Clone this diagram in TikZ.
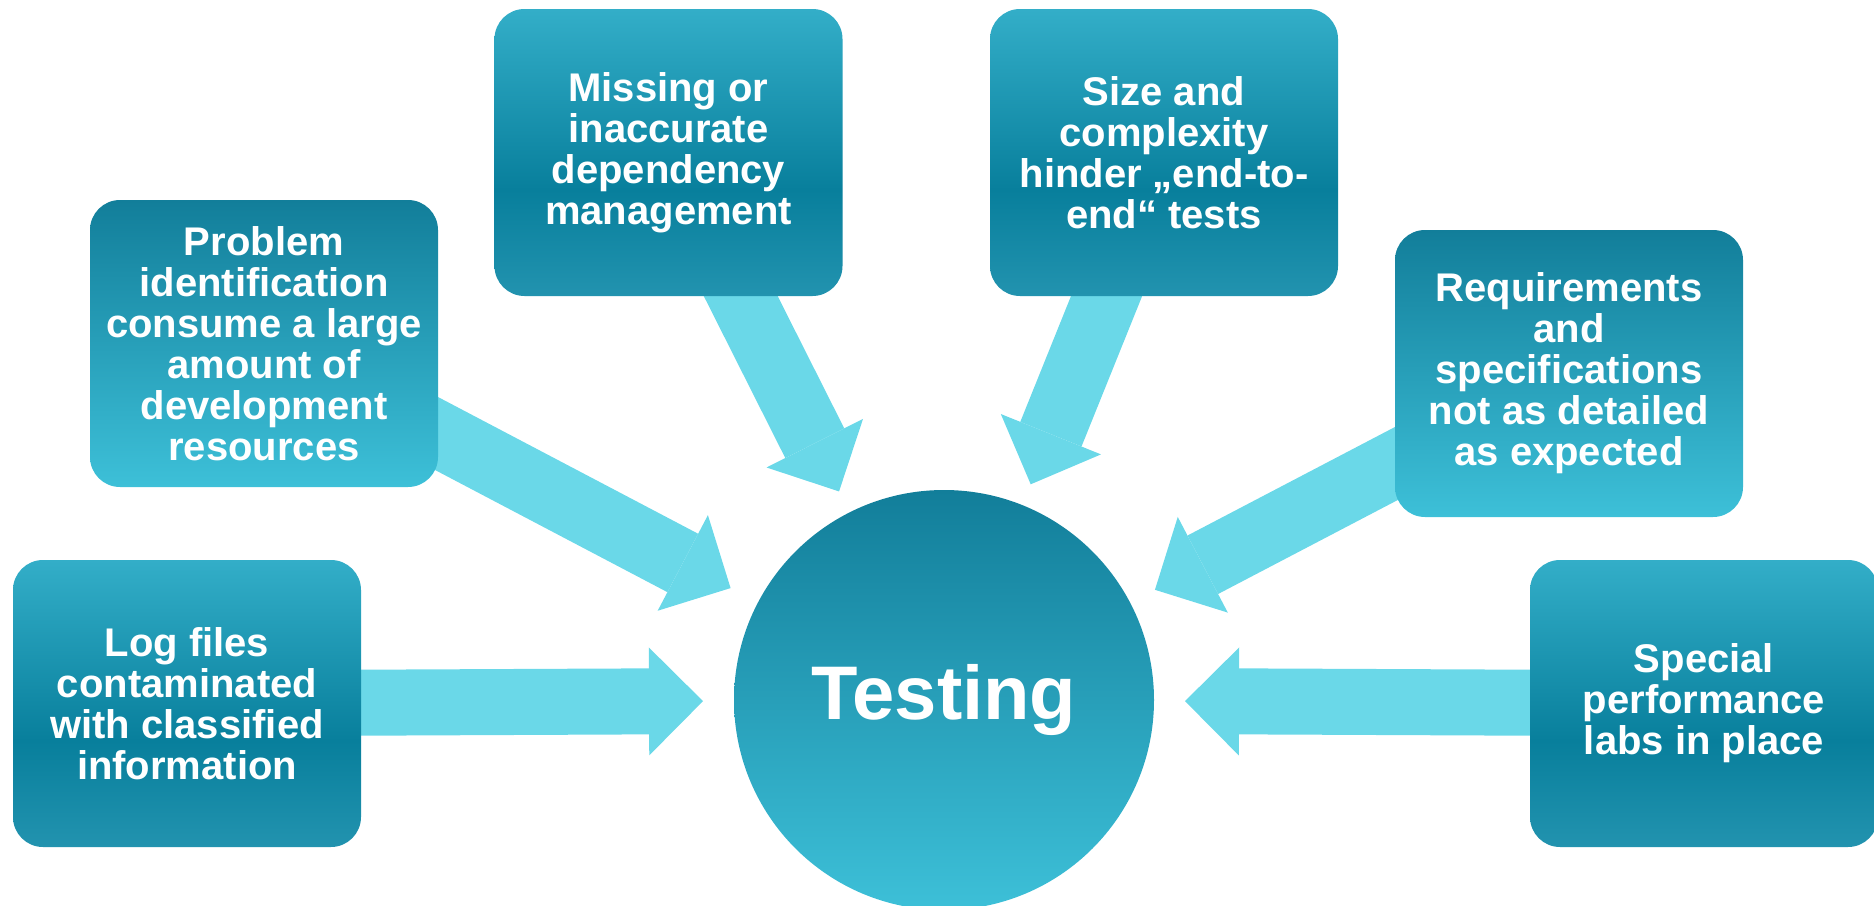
\documentclass[tikz,border=0pt]{standalone}
\usepackage{fontspec}
\setmainfont{Liberation Sans}
\usetikzlibrary{arrows.meta,backgrounds}
\definecolor{cDark}{HTML}{087F9C}
\definecolor{cTop}{HTML}{33AEC8}
\definecolor{cBot}{HTML}{2293AF}
\definecolor{cLight}{HTML}{3DC0D8}
\definecolor{cDeep}{HTML}{127E9A}
\definecolor{arrowc}{HTML}{6AD8E8}
\pgfdeclareverticalshading{bandshade}{100bp}{color(0bp)=(cBot); color(25bp)=(cBot); color(43.5bp)=(cDark); color(75bp)=(cTop); color(100bp)=(cTop)}
\tikzset{
  box/.style={rectangle, rounded corners=30pt, minimum width=348pt, minimum height=287pt,
    inner sep=0pt, outer sep=0pt, text=white, align=center,
    font=\fontsize{40}{41}\selectfont\bfseries},
  boxband/.style={box, shade, shading=bandshade},
  boxup/.style={box, top color=cDeep, bottom color=cLight},
  hub/.style={circle, minimum size=420pt, inner sep=0pt, outer sep=0pt,
    top color=cDeep, bottom color=cLight, text=white,
    font=\fontsize{76}{80}\selectfont\bfseries},
  bigarrow/.style={draw=arrowc, line width=66pt, shorten <=-40pt,
    -{Triangle[width=108pt,length=54pt,line width=0pt,fill=arrowc]}}
}
\begin{document}
\begin{tikzpicture}[x=1pt,y=-1pt]
\useasboundingbox (0,0) rectangle (1874,905);
\node[hub] (circ) at (944,700) {\raisebox{-2pt}{Testing}};
\node[boxband] (log) at (187,703.5) {Log files\\contaminated\\with classified\\information};
\node[boxup] (prob) at (264,343.5) {Problem\\identification\\consume a large\\amount of\\development\\resources};
\node[boxband] (miss) at (668.5,152.5) {Missing or\\inaccurate\\dependency\\management};
\node[boxband] (size) at (1164,152.5) {Size and\\complexity\\hinder „end-to-\\end“ tests};
\node[boxup] (req) at (1569,373.5) {Requirements\\and\\specifications\\not as detailed\\as expected};
\node[boxband] (spec) at (1704,703.5) {Special\\performance\\labs in place};
\begin{scope}[on background layer]
\draw[bigarrow, shorten >=31pt] (log) -- (circ);
\draw[bigarrow, shorten >=31pt] (prob) -- (circ);
\draw[bigarrow, shorten >=23.5pt] (miss) -- (circ);
\draw[bigarrow, shorten >=22.5pt] (size) -- (circ);
\draw[bigarrow, shorten >=28pt] (req) -- (circ);
\draw[bigarrow, shorten >=31pt] (spec) -- (circ);
\end{scope}
\end{tikzpicture}
\end{document}
